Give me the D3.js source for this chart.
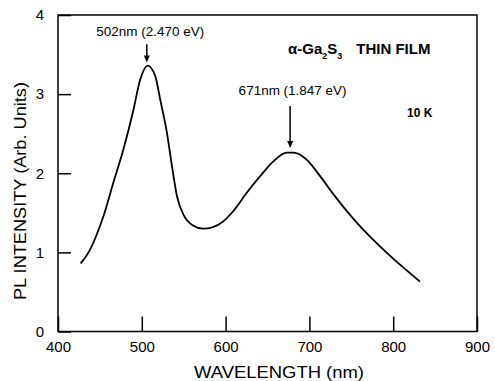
<!DOCTYPE html>
<html>
<head>
<meta charset="utf-8">
<script src="https://cdn.jsdelivr.net/npm/d3@7"></script>
<style>
  html, body { margin: 0; padding: 0; background: #fff; }
  svg { display: block; font-family: "Liberation Sans", Arial, sans-serif; }
</style>
</head>
<body>
<svg id="chart" width="495" height="381"></svg>
<script>
// PL spectrum
const wavelength = [427, 437, 446, 454, 466, 478, 490, 498, 507, 516, 522, 530, 536, 542, 550, 561,
  573, 585, 597, 609, 625, 641, 657, 673, 681, 697, 713, 729, 752, 776, 800, 832];
const intensity = [0.86, 1.01, 1.22, 1.45, 1.88, 2.30, 2.80, 3.18, 3.36, 3.23, 2.93, 2.51, 2.09, 1.71, 1.47, 1.34,
  1.30, 1.32, 1.39, 1.52, 1.75, 1.96, 2.15, 2.26, 2.26, 2.17, 1.96, 1.73, 1.43, 1.16, 0.92, 0.63];

const xTicks = [400, 500, 600, 700, 800, 900];
const yTicks = [0, 1, 2, 3, 4];

const peakLabels = ['502nm (2.470 eV)', '671nm (1.847 eV)'];
const peakArrowX = [506, 677];

const margin = { top: 15, right: 18, bottom: 49.5, left: 58 };
const width = 495, height = 381;

const svg = d3.select('#chart');

const x = d3.scaleLinear().domain([400, 900]).range([margin.left, width - margin.right]);
const y = d3.scaleLinear().domain([0, 4]).range([height - margin.bottom, margin.top]);

// frame
svg.append('rect')
  .attr('x', x(400)).attr('y', y(4))
  .attr('width', x(900) - x(400)).attr('height', y(0) - y(4))
  .attr('fill', 'none').attr('stroke', '#000').attr('stroke-width', 1.5);

const xAxis = svg.append('g')
  .attr('transform', `translate(0,${y(0)})`)
  .call(d3.axisBottom(x).tickValues(xTicks).tickSizeInner(-15).tickSizeOuter(0).tickPadding(10));

const yAxis = svg.append('g')
  .attr('transform', `translate(${x(400)},0)`)
  .call(d3.axisLeft(y).tickValues(yTicks).tickSizeInner(-13).tickSizeOuter(0).tickPadding(14).tickFormat(d3.format('d')));

[xAxis, yAxis].forEach(g => {
  g.select('.domain').remove();
  g.selectAll('line').attr('stroke', '#000').attr('stroke-width', 1.5);
  g.selectAll('text').attr('fill', '#000').style('font-size', '15px')
    .style('font-family', '"Liberation Sans", Arial, sans-serif');
});

// axis titles
svg.append('text')
  .attr('x', 279).attr('y', 378)
  .attr('text-anchor', 'middle')
  .attr('textLength', 170).attr('lengthAdjust', 'spacingAndGlyphs')
  .style('font-size', '16px')
  .text('WAVELENGTH   (nm)');

svg.append('text')
  .attr('transform', 'translate(26,191) rotate(-90)')
  .attr('text-anchor', 'middle')
  .attr('textLength', 218).attr('lengthAdjust', 'spacingAndGlyphs')
  .style('font-size', '16px')
  .text('PL  INTENSITY  (Arb. Units)');

// spectrum
const line = d3.line()
  .x((d, i) => x(wavelength[i]))
  .y(d => y(d))
  .curve(d3.curveMonotoneX);

svg.append('path')
  .datum(intensity)
  .attr('d', line)
  .attr('fill', 'none')
  .attr('stroke', '#000')
  .attr('stroke-width', 1.8);

// peak arrows
const arrowFrom = [3.63, 2.85];
const arrowTo = [3.40, 2.32];
peakArrowX.forEach((wl, i) => {
  const ax = x(wl), y0 = y(arrowFrom[i]), y1 = y(arrowTo[i]);
  svg.append('line')
    .attr('x1', ax).attr('x2', ax).attr('y1', y0).attr('y2', y1 - 5)
    .attr('stroke', '#000').attr('stroke-width', 1.5);
  svg.append('path')
    .attr('d', `M${ax - 3},${y1 - 7}L${ax + 3},${y1 - 7}L${ax},${y1}Z`)
    .attr('fill', '#000');
});

// peak labels
const labelX = [510, 680];
const labelY = [3.74, 2.99];
peakLabels.forEach((t, i) => {
  svg.append('text')
    .attr('x', x(labelX[i])).attr('y', y(labelY[i]))
    .attr('text-anchor', 'middle')
    .attr('textLength', 108).attr('lengthAdjust', 'spacingAndGlyphs')
    .style('font-size', '13px')
    .text(t);
});

// sample title
const title = svg.append('text')
  .attr('x', x(674.5)).attr('y', y(3.51))
  .style('font-size', '15px').style('font-weight', 'bold');
title.append('tspan').text('\u03b1-Ga');
title.append('tspan').attr('dy', 5).style('font-size', '9px').text('2');
title.append('tspan').attr('dy', -5).text('S');
title.append('tspan').attr('dy', 5).style('font-size', '9px').text('3');
title.append('tspan').attr('dy', -5).attr('dx', 14).text('THIN  FILM');

svg.append('text')
  .attr('x', x(816.5)).attr('y', y(2.715))
  .style('font-size', '12px').style('font-weight', 'bold')
  .text('10 K');
</script>
</body>
</html>
